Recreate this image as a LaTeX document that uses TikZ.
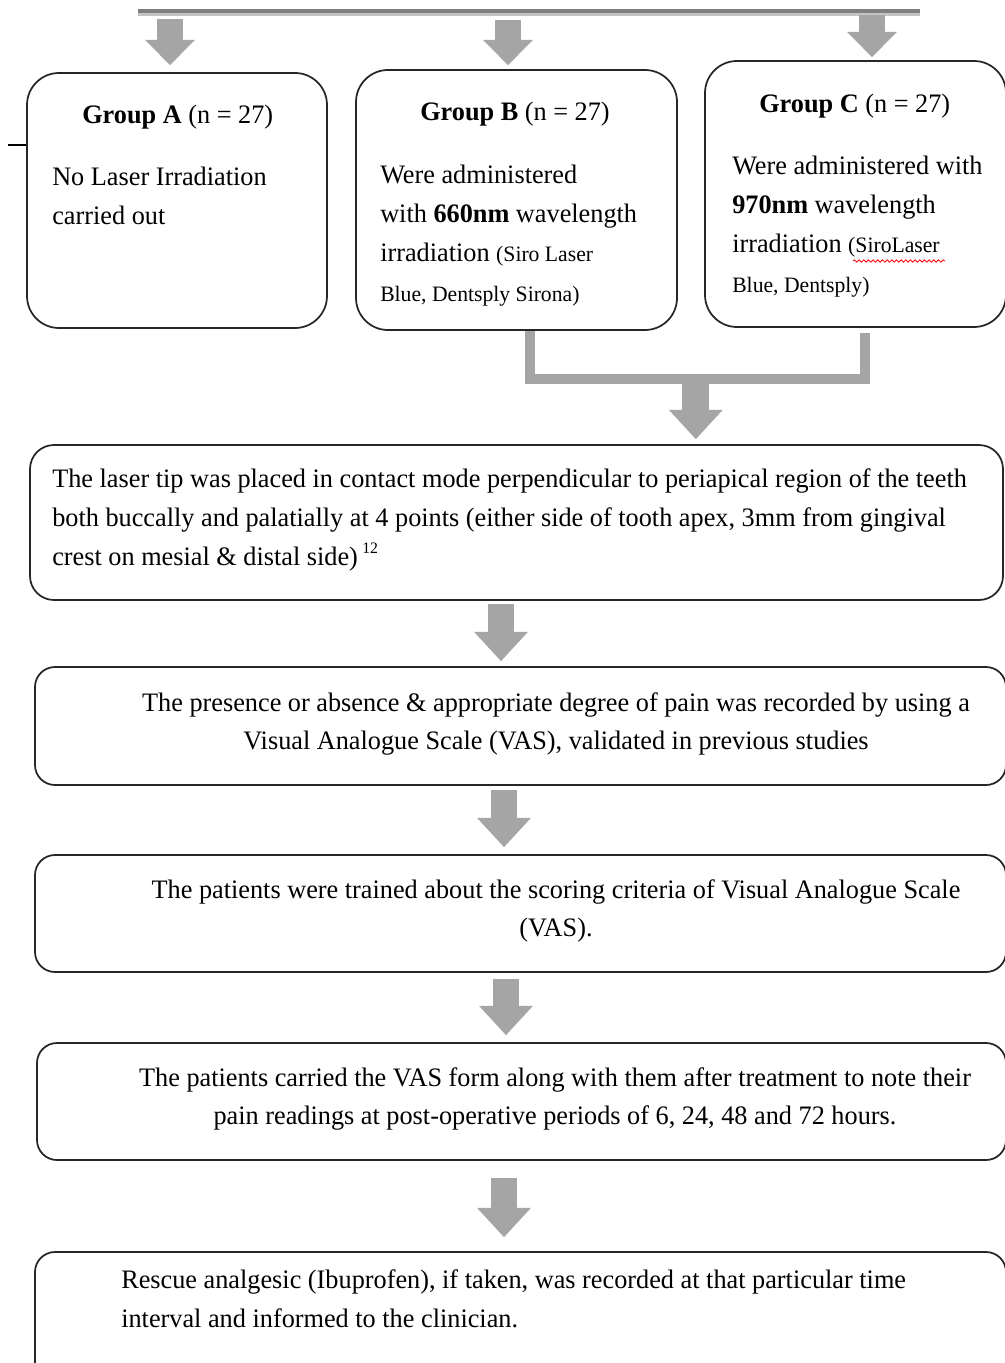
\documentclass[tikz,border=0pt]{standalone}
\usepackage{fontspec}
\setmainfont{Liberation Serif}[FakeStretch=0.985]
\usetikzlibrary{arrows.meta,calc,fit,decorations.pathmorphing}
\definecolor{agray}{HTML}{A5A5A5}
\definecolor{bardark}{HTML}{7F7F7F}
\definecolor{barlight}{HTML}{C4C4C4}
\newcommand{\sm}{\fontsize{16.5}{20}\selectfont}
\begin{document}
\begin{tikzpicture}[x=0.75pt,y=-0.75pt,
  box/.style={draw=black!85,line width=1.3pt,rounded corners=15pt,inner sep=0pt},
  gbox/.style={box,rounded corners=24pt},
  blockarr/.style={draw=agray,line width=20pt,-{Triangle[width=40.5pt,length=22pt,line width=0pt]}},
  toparr/.style={draw=agray,line width=19pt,-{Triangle[width=37.5pt,length=19pt,line width=0pt]}},
  bracket/.style={draw=agray,line width=7.5pt,line join=miter},
  txt/.style={inner sep=0pt,font=\fontsize{20}{29.5}\selectfont},
]
\useasboundingbox[fill=white] (0,0) rectangle (1005,1363);

% boxes
\node[gbox,fit={(27,73) (327,328)}] (gA) {};
\node[gbox,fit={(356,70) (677,330)}] (gB) {};
\node[gbox,fit={(705,61) (1006,327)}] (gC) {};
\node[box,rounded corners=18pt,fit={(30,445) (1003,600)}] (b4) {};
\node[box,fit={(35,667) (1006,785)}] (b5) {};
\node[box,fit={(35,855) (1006,972)}] (b6) {};
\node[box,fit={(37,1043) (1006,1160)}] (b7) {};
\node[box,fit={(35,1252) (1006,1385)}] (b8) {};

% top bar
\coordinate (barL) at (138,11);
\coordinate (barR) at (920,11);
\draw[bardark,line width=3pt] (barL) -- (barR);
\draw[barlight,line width=2pt] ($(barL)+(0,3.5)$) -- ($(barR)+(0,3.5)$);

% small tick at left of group A
\coordinate (tick) at (8,145);
\draw[black,line width=2pt] (tick) -- (tick -| gA.west);

% top arrows
\draw[toparr] ($(gA.north)+(-7,-53)$) -- ($(gA.north)+(-7,-7)$);
\draw[toparr] ($(gB.north)+(-8.5,-49)$) -- ($(gB.north)+(-8.5,-4)$);
\draw[toparr] ($(gC.north)+(16.5,-45)$) -- ($(gC.north)+(16.5,-3)$);

% bracket from B and C
\coordinate (jl) at ($(gB.south)+(13.5,48)$);
\coordinate (jr) at ($(gC.south)+(9.5,0)$);
\draw[bracket] ($(gB.south)+(13.5,0)$) -- (jl) -- (jl -| jr) -- ($(jr)+(0,5)$);
\coordinate (jm) at ($(jl)!0.495!(jl -| jr)$);
\draw[blockarr] ($(jm)+(0,4)$) -- ($(jm |- b4.north)+(0,-5)$);

% arrows between boxes
\draw[blockarr] ($(b4.south)+(-15.5,3)$) -- ($(b5.north)+(-19.5,-5)$);
\draw[blockarr] ($(b5.south)+(-16.5,4)$) -- ($(b6.north)+(-16.5,-7)$);
\draw[blockarr] ($(b6.south)+(-14.5,6)$) -- ($(b7.north)+(-15.5,-7)$);
\draw[blockarr] ($(b7.south)+(-17.5,17)$) -- ($(b8.north)+(-16.5,-14)$);

% group texts
\node[txt,anchor=base west] (tAh) at (82,123) {\textbf{Group A} (n = 27)};
\node[txt,anchor=base west] (tA) at (52,185) {\begin{tabular}[t]{@{}l@{}}No Laser Irradiation\\carried out\end{tabular}};

\node[txt,anchor=base west] (tBh) at (420,120) {\textbf{Group B} (n = 27)};
\node[txt,anchor=base west] (tB) at (380,183) {\begin{tabular}[t]{@{}l@{}}Were administered\\with \textbf{660nm} wavelength\\irradiation {\sm(Siro Laser}\\{\sm Blue, Dentsply Sirona)}\end{tabular}};

\node[txt,anchor=base west] (tCh) at (759,113) {\textbf{Group C} (n = 27)};
\node[txt,anchor=base west] (tC) at (732,174) {\begin{tabular}[t]{@{}l@{}}Were administered with\\\textbf{970nm} wavelength\\irradiation {\sm(SiroLaser}\\{\sm Blue, Dentsply)}\end{tabular}};
\draw[red,line width=0.6pt,decorate,decoration={snake,amplitude=0.9pt,segment length=3.5pt}] (853,261) -- (945,261);

% step texts
\node[txt,anchor=base west] (t4) at (52,487) {\begin{tabular}[t]{@{}l@{}}The laser tip was placed in contact mode perpendicular to periapical region of the teeth\\both buccally and palatially at 4 points (either side of tooth apex, 3mm from gingival\\crest on mesial \& distal side)\,\raisebox{0.45em}{\fontsize{12}{14}\selectfont 12}\end{tabular}};

\node[txt,anchor=base] (t5) at (556,711) {\fontsize{20}{29}\selectfont\begin{tabular}[t]{@{}c@{}}The presence or absence \& appropriate degree of pain was recorded by using a\\Visual Analogue Scale (VAS), validated in previous studies\end{tabular}};

\node[txt,anchor=base] (t6) at (556,898) {\fontsize{20}{28.5}\selectfont\begin{tabular}[t]{@{}c@{}}The patients were trained about the scoring criteria of Visual Analogue Scale\\(VAS).\end{tabular}};

\node[txt,anchor=base] (t7) at (555,1086) {\fontsize{20}{29}\selectfont\begin{tabular}[t]{@{}c@{}}The patients carried the VAS form along with them after treatment to note their\\pain readings at post-operative periods of 6, 24, 48 and 72 hours.\end{tabular}};

\node[txt,anchor=base west] (t8) at (121,1288) {\begin{tabular}[t]{@{}l@{}}Rescue analgesic (Ibuprofen), if taken, was recorded at that particular time\\interval and informed to the clinician.\end{tabular}};
\end{tikzpicture}
\end{document}
